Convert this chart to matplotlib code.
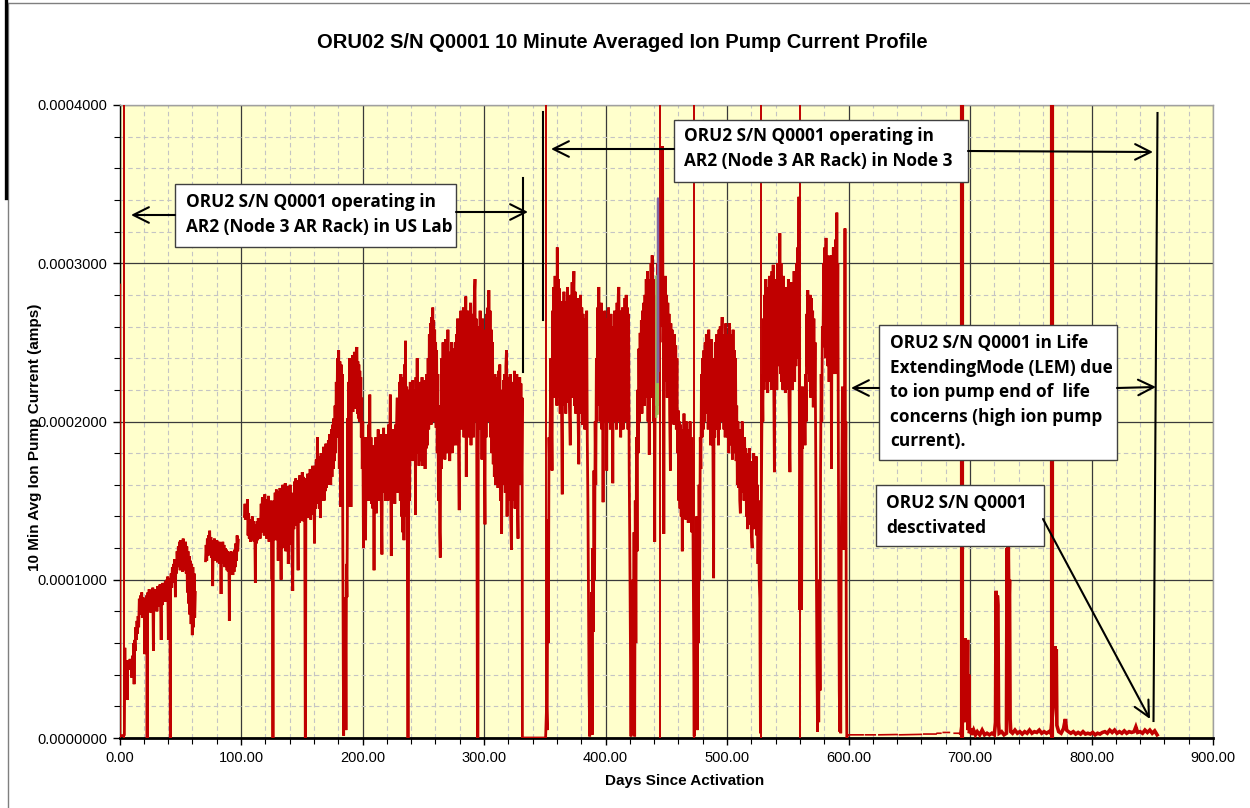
import numpy as np
import matplotlib
matplotlib.use("Agg")
import matplotlib.pyplot as plt
from matplotlib.patches import Rectangle, FancyArrowPatch
from matplotlib.lines import Line2D
from matplotlib.ticker import MultipleLocator, FormatStrFormatter

NAN = np.nan
W, H = 1250, 808

title = "ORU02 S/N Q0001 10 Minute Averaged Ion Pump Current Profile"
x_label = "Days Since Activation"
y_label = "10 Min Avg Ion Pump Current (amps)"
x_ticks = [0, 100, 200, 300, 400, 500, 600, 700, 800, 900]
y_ticks = [0.0, 0.0001, 0.0002, 0.0003, 0.0004]

# ---- data: (day, current in microamps) ----
us_lab = [
    (0.0, 0), (0.15, 287), (0.3, 1.5), (3.3, 1.5), (4.0, 2), (4.4, 57), (4.7, 30), (5.0, 48),
    (5.5, 44), (6.0, 49), (6.3, 24), (6.7, 47), (7.2, 43), (7.7, 49), (8.2, 45), (8.7, 50),
    (9.2, 46), (9.7, 49), (10.2, 38), (10.7, 52), (11.2, 45), (11.7, 60), (12.0, 34), (12.4, 62),
    (12.9, 55), (13.4, 70), (13.9, 62), (14.4, 74), (14.8, 66), (15.3, 77), (15.8, 70), (16.3, 88),
    (16.8, 78), (17.3, 90), (17.8, 80), (18.3, 92), (18.8, 76), (19.3, 89), (19.8, 80), (20.3, 86),
    (20.8, 53), (21.2, 88), (21.7, 78), (22.2, 90), (22.6, 82), (22.7, 0), (22.8, 0), (22.9, 85),
    (23.4, 92), (23.9, 80), (24.4, 94), (24.9, 82), (25.4, 90), (25.9, 79), (26.4, 93), (26.9, 84),
    (27.4, 95), (27.9, 55), (28.3, 90), (28.8, 82), (29.3, 94), (29.8, 84), (30.3, 92), (30.8, 80),
    (31.3, 96), (31.8, 85), (32.3, 93), (32.8, 83), (33.3, 97), (33.8, 86), (34.3, 62), (34.7, 95),
    (35.2, 84), (35.7, 98), (36.2, 86), (36.7, 96), (37.2, 88), (37.7, 99), (38.2, 86), (38.7, 100),
    (39.2, 88), (39.7, 102), (40.2, 62), (40.6, 98), (41.0, 90), (41.5, 101), (41.8, 0), (41.9, 0),
    (42.0, 96), (42.5, 104), (43.0, 95), (43.5, 108), (44.0, 98), (44.5, 110), (45.0, 100), (45.5, 113),
    (46.0, 89), (46.4, 112), (46.9, 104), (47.4, 118), (47.9, 108), (48.4, 121), (48.9, 110), (49.4, 124),
    (49.9, 106), (50.4, 125), (50.9, 108), (51.4, 122), (51.9, 105), (52.4, 126), (52.9, 110), (53.4, 123),
    (53.9, 106), (54.4, 124), (54.9, 104), (55.4, 121), (55.9, 92), (56.4, 118), (56.9, 85), (57.4, 115),
    (57.9, 78), (58.4, 112), (58.9, 72), (59.4, 110), (59.9, 65), (60.4, 108), (60.9, 70), (61.4, 104),
    (61.9, 76), (62.4, 92), (62.5, NAN),
    (70.8, 112), (71.3, 122), (71.8, 112), (72.3, 126), (72.8, 115), (73.3, 128), (73.8, 117), (74.2, 131),
    (74.7, 116), (75.2, 127), (75.7, 114), (76.2, 125), (76.7, 96), (77.1, 124), (77.6, 113), (78.1, 126),
    (78.6, 112), (79.1, 123), (79.6, 114), (80.1, 125), (80.6, 111), (81.1, 122), (81.6, 113), (82.1, 124),
    (82.6, 110), (83.1, 121), (83.6, 91), (84.0, 122), (84.5, 110), (85.0, 124), (85.5, 111), (86.0, 122),
    (86.5, 108), (87.0, 120), (87.5, 109), (88.0, 119), (88.5, 106), (89.0, 118), (89.5, 105), (90.0, 117),
    (90.4, 74), (90.8, 116), (91.3, 104), (91.8, 118), (92.3, 106), (92.8, 117), (93.3, 103), (93.8, 115),
    (94.3, 105), (94.8, 119), (95.3, 108), (95.8, 123), (96.3, 112), (96.8, 128), (97.3, 118), (97.8, 125),
    (97.9, NAN),
    (102.8, 140), (103.3, 148), (103.8, 138), (104.3, 146), (104.8, 140), (105.3, 151), (105.8, 128), (106.3, 142),
    (106.8, 126), (107.3, 138), (107.8, 124), (108.3, 136), (108.8, 125), (109.3, 140), (109.8, 127), (110.3, 137),
    (110.8, 124), (111.3, 135), (111.8, 98), (112.2, 134), (112.7, 123), (113.2, 137), (113.7, 125), (114.2, 139),
    (114.7, 127), (115.2, 138), (115.7, 126), (116.6, 148), (117.1, 135), (117.6, 152), (118.1, 130), (118.6, 150),
    (119.1, 128), (119.6, 154), (120.1, 132), (120.6, 149), (121.1, 126), (121.6, 151), (122.1, 130), (122.6, 153),
    (123.1, 124), (123.6, 148), (124.1, 131), (124.6, 150), (125.1, 128), (125.5, 100), (125.9, 140), (126.2, 0),
    (126.4, 0), (126.6, 130), (127.1, 150), (127.6, 132), (128.1, 155), (128.6, 125), (129.1, 157), (129.6, 130),
    (130.1, 153), (130.6, 112), (131.1, 156), (131.6, 128), (132.1, 158), (132.6, 130), (133.0, 100), (133.4, 150),
    (133.9, 126), (134.4, 160), (134.9, 120), (135.4, 155), (135.9, 124), (136.4, 161), (136.9, 118), (137.4, 154),
    (137.9, 128), (138.4, 159), (138.9, 110), (139.4, 156), (139.9, 130), (140.4, 160), (140.9, 122), (141.4, 155),
    (141.9, 120), (142.6, 93), (143.0, 150), (143.5, 132), (144.0, 162), (144.5, 138), (145.0, 164), (145.5, 134),
    (146.0, 160), (146.5, 140), (147.0, 106), (147.4, 163), (147.9, 136), (148.4, 166), (148.9, 140), (149.4, 163),
    (149.9, 138), (150.4, 168), (150.9, 137), (151.4, 165), (151.9, 140), (152.4, 162), (152.9, 0), (153.1, 0),
    (153.4, 150), (153.9, 164), (154.4, 140), (154.9, 167), (155.4, 139), (155.9, 165), (156.4, 142), (156.9, 170),
    (157.4, 138), (157.9, 166), (158.4, 141), (158.9, 172), (159.4, 143), (159.9, 168), (160.5, 123), (160.9, 172),
    (161.4, 145), (161.9, 176), (162.4, 148), (162.9, 190), (163.4, 150), (163.9, 178), (164.4, 145), (164.9, 172),
    (165.4, 139), (165.9, 180), (166.4, 150), (166.9, 178), (167.4, 155), (167.9, 184), (168.4, 150), (168.9, 180),
    (169.4, 156), (169.9, 186), (170.4, 158), (170.9, 181), (171.4, 160), (171.9, 188), (172.4, 160), (172.9, 192),
    (173.4, 165), (173.9, 160), (174.4, 195), (174.9, 165), (175.4, 198), (175.9, 170), (176.4, 202), (176.9, 175),
    (177.4, 210), (177.9, 180), (178.4, 225), (178.9, 190), (179.4, 240), (179.9, 200), (180.4, 245), (180.9, 170),
    (181.4, 238), (181.9, 146), (182.4, 236), (182.9, 160), (183.4, 230), (183.8, 120), (184.2, 40), (184.5, 1.5),
    (184.8, 60), (185.1, 10), (185.4, 89), (185.7, 30), (186.0, 75), (186.4, 5), (186.8, 110), (187.2, 89),
    (187.5, 131), (187.8, 202), (188.2, 146), (188.6, 225), (189.0, 200), (189.4, 240), (189.8, 205), (190.2, 235),
    (190.5, 146), (190.9, 238), (191.3, 210), (191.7, 242), (192.1, 206), (192.5, 236), (192.9, 212), (193.3, 244),
    (193.7, 208), (194.1, 240), (194.5, 215), (194.9, 245), (195.4, 247), (195.8, 205), (196.2, 238), (196.6, 202),
    (197.0, 236), (197.4, 200), (197.8, 232), (198.2, 200), (198.6, 228), (199.0, 190), (199.4, 215), (199.8, 170),
    (200.2, 200), (200.8, 120), (201.2, 185), (201.6, 140), (202.0, 190), (202.5, 125), (203.0, 180), (203.5, 150),
    (204.0, 190), (204.5, 160), (205.0, 198), (205.5, 150), (206.0, 217), (206.5, 155), (207.0, 190), (207.5, 148),
    (208.0, 185), (208.5, 145), (209.0, 182), (209.5, 106), (209.9, 178), (210.4, 150), (210.9, 190), (211.4, 142),
    (211.9, 180), (212.4, 155), (212.9, 195), (213.4, 150), (213.9, 185), (214.4, 160), (214.9, 192), (215.4, 148),
    (216.0, 116), (216.4, 188), (216.9, 155), (217.4, 196), (217.9, 160), (218.4, 185), (218.9, 150), (219.4, 192),
    (219.9, 162), (220.4, 188), (220.9, 150), (221.4, 198), (221.9, 160), (222.4, 190), (222.9, 217), (223.3, 158),
    (223.7, 115), (224.1, 185), (224.6, 150), (225.1, 195), (225.6, 158), (226.1, 190), (226.6, 148), (227.1, 198),
    (227.6, 160), (228.1, 200), (228.6, 215), (229.1, 155), (229.6, 200), (230.1, 165), (230.6, 225), (231.1, 150),
    (231.6, 230), (232.1, 140), (232.6, 220), (233.1, 130), (233.6, 228), (234.1, 125), (234.6, 236), (235.0, 150),
    (235.4, 251), (235.9, 140), (236.4, 222), (236.9, 120), (237.3, 0), (237.6, 0), (237.9, 116), (238.3, 220),
    (238.8, 150), (239.3, 225), (239.8, 180), (240.3, 218), (240.8, 175), (241.3, 226), (241.8, 178), (242.3, 220),
    (242.8, 180), (243.3, 212), (243.6, 141), (244.0, 228), (244.5, 185), (245.0, 240), (245.5, 180), (246.0, 222),
    (246.5, 172), (247.0, 225), (247.5, 178), (248.0, 216), (248.5, 175), (249.0, 228), (249.5, 172), (250.0, 220),
    (250.5, 180), (251.0, 226), (251.5, 170), (252.0, 218), (252.5, 183), (253.0, 230), (253.5, 185), (254.0, 240),
    (254.5, 195), (255.0, 255), (255.5, 200), (256.0, 262), (256.5, 198), (257.0, 266), (257.5, 205), (257.8, 272),
    (258.2, 210), (258.6, 264), (259.0, 200), (259.4, 258), (259.8, 202), (260.2, 250), (260.6, 196), (261.0, 245),
    (261.5, 180), (262.0, 230), (262.5, 150), (263.0, 210), (263.5, 130), (264.0, 114), (264.4, 200), (264.8, 170),
    (265.3, 240), (265.8, 190), (266.3, 250), (266.8, 185), (267.3, 245), (267.8, 176), (268.3, 252), (268.8, 190),
    (269.3, 248), (269.8, 180), (270.3, 258), (270.8, 192), (271.3, 244), (271.8, 175), (272.3, 240), (272.8, 188),
    (273.3, 250), (273.8, 180), (274.3, 238), (274.8, 185), (275.3, 246), (275.8, 190), (276.3, 250), (276.8, 185),
    (277.3, 255), (277.8, 200), (278.3, 265), (278.8, 205), (279.6, 144), (280.0, 260), (280.5, 200), (281.0, 270),
    (281.5, 195), (282.0, 262), (282.5, 205), (283.0, 272), (283.5, 190), (284.0, 268), (284.5, 200), (285.0, 279),
    (285.4, 165), (285.8, 260), (286.3, 195), (286.8, 270), (287.3, 190), (287.8, 265), (288.3, 200), (288.8, 275),
    (289.3, 185), (289.8, 268), (290.3, 195), (290.8, 262), (291.3, 190), (291.8, 272), (292.6, 290), (293.0, 200),
    (293.5, 265), (294.0, 190), (294.6, 0), (295.0, 0), (295.3, 180), (295.8, 260), (296.3, 200), (296.8, 270),
    (297.3, 195), (297.8, 262), (298.3, 176), (298.8, 265), (299.3, 185), (299.8, 258), (300.4, 175), (300.8, 135),
    (301.2, 250), (301.7, 190), (302.2, 268), (302.7, 200), (303.2, 272), (303.7, 205), (304.0, 283), (304.5, 200),
    (305.0, 270), (305.5, 190), (306.0, 258), (306.5, 180), (307.0, 250), (307.6, 173), (308.0, 225), (308.5, 165),
    (309.0, 230), (309.5, 160), (310.0, 222), (310.5, 170), (311.0, 228), (311.5, 158), (312.0, 232), (312.5, 165),
    (313.0, 236), (313.5, 150), (314.0, 220), (314.5, 129), (315.0, 215), (315.5, 160), (316.0, 226), (316.5, 170),
    (317.0, 230), (317.5, 155), (318.0, 235), (318.5, 245), (319.0, 140), (319.5, 228), (320.0, 160), (320.5, 225),
    (321.0, 150), (321.5, 230), (322.0, 140), (322.6, 119), (323.0, 218), (323.5, 160), (324.0, 225), (324.5, 150),
    (325.0, 232), (325.5, 145), (326.0, 222), (326.5, 165), (327.0, 230), (327.5, 150), (328.0, 126), (328.4, 220),
    (328.9, 160), (329.4, 228), (329.9, 172), (330.4, 224), (330.9, 165), (331.4, 215), (331.6, 0), (350.5, 0),
]

node3 = [
    (350.7, 0), (351.5, 20), (352.0, 5), (352.5, 138), (353.0, 60), (353.5, 190), (354.0, 170), (354.5, 200),
    (355.0, 240), (355.5, 200), (356.0, 169), (356.5, 270), (357.0, 215), (357.5, 285), (358.0, 220), (358.5, 292),
    (359.0, 225), (359.5, 280), (360.0, 210), (360.3, 310), (360.7, 230), (361.2, 290), (361.7, 215), (362.2, 284),
    (362.7, 205), (363.2, 276), (363.7, 220), (364.4, 154), (364.8, 270), (365.3, 210), (365.8, 282), (366.3, 215),
    (366.8, 276), (367.3, 205), (367.8, 272), (368.3, 212), (368.8, 285), (369.3, 220), (369.8, 278), (370.3, 210),
    (371.0, 185), (371.5, 280), (372.0, 215), (372.5, 288), (373.0, 218), (373.5, 275), (374.0, 295), (374.5, 210),
    (375.0, 282), (375.5, 205), (376.0, 274), (376.5, 212), (377.0, 278), (377.5, 200), (378.0, 173), (378.5, 270),
    (379.0, 205), (379.5, 280), (380.0, 210), (380.5, 272), (381.0, 198), (381.5, 268), (382.0, 205), (382.5, 265),
    (383.0, 195), (383.5, 262), (384.0, 200), (384.5, 270), (385.0, 190), (385.5, 150), (386.0, 90), (386.5, 30),
    (387.0, 1), (387.5, 60), (388.0, 5), (388.5, 92), (389.0, 2), (389.5, 120), (390.0, 67), (390.5, 169),
    (391.0, 100), (391.5, 200), (392.0, 160), (392.5, 240), (393.0, 200), (393.5, 272), (394.0, 215), (394.5, 285),
    (395.0, 210), (395.5, 268), (396.0, 200), (396.5, 275), (397.0, 195), (397.5, 260), (398.0, 149), (398.5, 262),
    (399.0, 205), (399.5, 270), (400.0, 200), (400.5, 260), (401.0, 169), (401.5, 265), (402.0, 200), (402.5, 272),
    (403.0, 205), (403.5, 262), (404.0, 195), (404.5, 268), (405.0, 205), (405.5, 255), (406.0, 161), (406.5, 260),
    (407.0, 200), (407.5, 270), (408.0, 210), (408.5, 265), (409.0, 195), (409.5, 275), (410.0, 205), (410.5, 280),
    (411.0, 285), (411.5, 200), (412.0, 270), (412.5, 190), (413.0, 262), (413.5, 200), (414.0, 272), (414.5, 195),
    (415.0, 265), (415.5, 205), (416.0, 278), (416.5, 200), (417.0, 280), (417.5, 210), (418.0, 272), (418.5, 195),
    (419.0, 268), (419.5, 170), (420.0, 120), (420.5, 60), (421.0, 1), (421.5, 80), (422.0, 2), (422.5, 100),
    (423.0, 20), (423.5, 130), (424.0, 1), (424.5, 150), (425.0, 60), (425.5, 190), (426.0, 118), (426.5, 220),
    (427.0, 180), (427.5, 246), (428.0, 200), (428.5, 256), (429.0, 210), (429.5, 264), (430.0, 205), (430.5, 270),
    (431.0, 215), (431.5, 275), (432.0, 210), (432.5, 280), (433.0, 220), (433.5, 290), (434.0, 215), (434.5, 295),
    (435.0, 200), (435.5, 285), (436.0, 179), (436.5, 290), (437.0, 215), (437.5, 300), (438.0, 230), (438.4, 305),
    (438.8, 220), (439.2, 290), (439.6, 200), (440.0, 250), (440.5, 124), (441.0, 250), (441.5, 210), (442.0, 280),
    (442.5, 230), (443.0, 300), (443.5, 250), (444.0, 320), (444.5, 270), (445.0, 338), (445.5, 280), (446.0, 320),
    (446.5, 260), (447.0, 374), (447.3, 250), (447.7, 290), (448.0, 129), (448.4, 285), (448.8, 230), (449.3, 292),
    (449.8, 225), (450.3, 280), (450.8, 215), (451.3, 275), (451.8, 220), (452.3, 268), (452.8, 205), (453.4, 169),
    (453.8, 262), (454.3, 200), (454.8, 258), (455.3, 210), (455.8, 250), (456.3, 198), (456.8, 255), (457.3, 200),
    (457.8, 248), (458.3, 195), (458.8, 240), (459.3, 180), (459.8, 207), (460.3, 150), (460.8, 200), (461.3, 145),
    (461.8, 198), (462.3, 140), (462.8, 190), (463.2, 118), (463.6, 195), (464.1, 145), (464.6, 205), (465.1, 150),
    (465.6, 190), (466.1, 138), (466.6, 200), (467.1, 144), (467.6, 185), (468.1, 136), (468.6, 195), (469.1, 150),
    (469.6, 200), (470.1, 140), (470.6, 190), (471.1, 130), (471.6, 180), (472.1, 120), (472.6, 60), (473.0, 1),
    (473.4, 90), (473.8, 10), (474.2, 118), (474.6, 30), (475.0, 140), (475.5, 5), (476.0, 120), (476.5, 60),
    (477.0, 160), (477.5, 100), (478.0, 190), (478.5, 170), (479.0, 230), (479.5, 190), (480.0, 240), (480.5, 195),
    (481.0, 245), (481.5, 200), (482.0, 250), (482.5, 210), (483.0, 255), (483.5, 205), (484.0, 248), (484.5, 195),
    (485.0, 258), (485.5, 200), (486.0, 245), (486.5, 185), (487.0, 252), (487.5, 190), (488.0, 240), (488.5, 175),
    (489.0, 101), (489.4, 235), (489.9, 190), (490.4, 250), (490.9, 195), (491.4, 255), (491.9, 200), (492.4, 245),
    (492.9, 185), (493.4, 258), (493.9, 195), (494.4, 260), (494.9, 200), (495.4, 250), (496.0, 266), (496.5, 205),
    (497.0, 255), (497.5, 195), (498.0, 250), (498.5, 190), (499.0, 262), (499.5, 200), (500.0, 255), (500.5, 190),
    (501.0, 250), (501.5, 180), (502.0, 262), (502.5, 195), (503.0, 255), (503.5, 185), (504.0, 248), (504.5, 176),
    (505.0, 258), (505.5, 190), (506.0, 245), (506.5, 180), (507.0, 240), (507.5, 175), (508.0, 210), (508.5, 160),
    (509.0, 200), (509.5, 158), (510.0, 195), (510.5, 150), (511.0, 142), (511.5, 190), (512.0, 160), (512.5, 200),
    (513.0, 155), (513.5, 185), (514.0, 150), (514.5, 190), (515.0, 158), (515.5, 183), (516.0, 140), (516.5, 180),
    (517.0, 132), (517.5, 178), (518.0, 140), (518.5, 183), (519.0, 135), (519.5, 175), (520.0, 130), (520.7, 120),
    (521.0, 175), (521.5, 140), (522.0, 180), (522.5, 132), (523.0, 170), (523.5, 138), (524.0, 178), (524.5, 128),
    (525.0, 160), (525.5, 110), (526.0, 150), (526.5, 100), (527.0, 88), (527.5, 3), (528.0, 120), (528.5, 180),
    (529.0, 230), (529.5, 200), (530.0, 265), (530.5, 220), (531.0, 280), (531.5, 230), (532.0, 290), (532.5, 225),
    (533.0, 270), (533.5, 218), (534.0, 285), (534.5, 230), (535.0, 292), (535.5, 225), (536.0, 280), (536.5, 220),
    (537.0, 295), (537.5, 230), (538.0, 299), (538.5, 225), (539.0, 168), (539.5, 285), (540.0, 230), (540.5, 290),
    (541.0, 220), (541.5, 300), (542.0, 235), (542.5, 295), (543.0, 240), (543.5, 319), (544.0, 230), (544.5, 300),
    (545.0, 225), (545.5, 285), (546.0, 220), (546.5, 292), (547.0, 230), (547.5, 280), (548.0, 218), (548.5, 285),
    (549.0, 225), (549.5, 278), (550.0, 220), (550.5, 290), (551.0, 215), (551.8, 168), (552.2, 280), (552.7, 225),
    (553.2, 288), (553.7, 220), (554.2, 282), (554.7, 230), (555.2, 295), (555.7, 225), (556.2, 290), (556.7, 235),
    (557.2, 300), (557.7, 240), (558.2, 310), (558.7, 250), (559.2, 342), (559.5, 230), (559.9, 81), (560.3, 150),
    (560.7, 222), (561.0, 100), (561.4, 81), (561.8, 200), (562.2, 183), (562.7, 222), (563.2, 190), (563.7, 215),
    (564.2, 185), (564.7, 230), (565.2, 200), (565.6, 268), (566.0, 235), (566.5, 283), (567.0, 230), (567.5, 275),
    (568.0, 225), (568.5, 280), (569.0, 215), (569.5, 278), (570.0, 220), (570.5, 270), (571.0, 209), (571.5, 265),
    (572.0, 210), (572.5, 250), (573.0, 180), (573.5, 120), (574.0, 50), (574.5, 4), (575.0, 80), (575.5, 10),
    (576.0, 100), (576.6, 30), (577.0, 170), (577.5, 230), (578.0, 200), (578.5, 260), (579.0, 247), (579.5, 300),
    (580.0, 250), (580.5, 310), (581.0, 240), (581.5, 316), (582.0, 250), (582.5, 305), (583.0, 235), (583.5, 300),
    (584.0, 225), (584.5, 293), (585.0, 240), (585.5, 305), (586.0, 170), (586.5, 300), (587.0, 230), (587.5, 310),
    (588.0, 245), (588.5, 300), (589.0, 230), (589.5, 315), (590.0, 250), (590.4, 332), (590.8, 240), (591.2, 300),
    (591.7, 163), (592.0, 100), (592.4, 30), (592.8, 4), (593.2, 60), (593.6, 3), (594.0, 120), (594.5, 163),
    (595.0, 222), (595.5, 158), (596.0, 119), (596.4, 200), (596.8, 170), (597.1, 322), (597.4, 160), (597.8, 200),
    (598.2, 60), (598.6, 0),
]

lem_standby = [
    (598.6, 0), (600, 2), (612, 2), (612.5, NAN), (614, 2), (622, 2), (622.5, NAN), (625, 2),
    (640, 2.2), (640.5, NAN), (642, 2), (660, 2.3), (660.5, NAN), (662, 2.5), (672, 2.5), (672.5, NAN),
    (673, 3), (676, 3), (676.5, NAN), (678, 3.5), (683, 3.5), (683.5, NAN), (687, 3), (692.5, 3),
]

lem_after = [
    (692.5, 3), (695.5, 20), (696.0, 63), (696.5, 10), (697.0, 60), (697.5, 30), (698.0, 62), (698.5, 5),
    (699.0, 40), (699.5, 3), (700.5, 6), (701.5, 2), (703, 5), (704.5, 2), (706, 4), (708, 2),
    (710, 5), (712, 2), (714, 3), (716, 2), (718, 3), (720, 2), (721.0, 10), (721.5, 93),
    (722.0, 40), (722.5, 90), (723.0, 84), (723.5, 10), (724.0, 3), (726, 4), (728, 2), (730.0, 3),
    (730.5, 120), (731.0, 60), (731.5, 122), (732.0, 80), (732.5, 100), (733.0, 12), (733.5, 4), (735, 3),
    (737, 5), (739, 3), (741, 4), (743, 2.5), (745, 4), (747, 3), (749, 5), (751, 3),
    (753, 4), (755, 3.5), (757, 5), (759, 3), (761, 4), (763, 3), (765, 4), (766.5, 3),
    (768.5, 20), (769.0, 58), (769.5, 30), (770.0, 58), (770.5, 40), (771.0, 56), (771.5, 8), (773, 4),
    (775, 3), (777, 6), (778.5, 12), (779.5, 5), (781, 4), (783, 3), (785, 4), (787, 2.5),
    (789, 3.5), (791, 2.5), (793, 4), (795, 2.5), (797, 3), (799, 2.5), (801, 3.5), (803, 2),
    (805, 3), (807, 2.5), (809, 3.5), (811, 4), (813, 3), (815, 5), (817, 3.5), (819, 5),
    (821, 3), (823, 4), (825, 3), (827, 4.5), (829, 3), (831, 4), (833, 3.5), (835, 4),
    (836.5, 7), (838, 3.5), (840, 4), (842, 3), (844, 5), (846, 3.5), (848, 5), (850, 3),
    (852, 4.5), (854, 2),
]

# readings that go off the top of the scale (drawn as full-height spikes)
offscale_days_thin = [3.4, 350.7, 445.0, 472.9, 527.6, 559.7]
offscale_days_thick = [693.8, 767.3]
offscale_uA = 5000.0

# two short overlay series near day 443
purple_series = [(442.9, 225), (443.2, 341), (443.5, 232)]
green_series = [(441.8, 203), (442.1, 292), (442.4, 210), (442.7, 280), (443.0, 205)]

note_lab = ["ORU2 S/N Q0001 operating in", "AR2 (Node 3 AR Rack) in US Lab"]
note_node3 = ["ORU2 S/N Q0001 operating in", "AR2 (Node 3 AR Rack) in Node 3"]
note_lem = ["ORU2 S/N Q0001 in Life", "ExtendingMode (LEM) due", "to ion pump end of  life",
            "concerns (high ion pump", "current)."]
note_deact = ["ORU2 S/N Q0001", "desctivated"]

# ---------------------------------------------------------------------------
RED = "#C00000"
AXIS_FONT = ["Liberation Sans Narrow", "Liberation Sans", "DejaVu Sans"]
NOTE_FONT = ["Open Sans", "DejaVu Sans"]


def fx(px):
    return px / W


def fy(py):
    return 1 - py / H


fig = plt.figure(figsize=(W / 100, H / 100), dpi=100)
fig.patch.set_facecolor("white")

L, R, T, B = 119.5, 1213.0, 105.0, 738.0
ax = fig.add_axes([fx(L), fy(B), (R - L) / W, (B - T) / H])
ax.set_facecolor("#FFFFCC")
ax.set_xlim(0, 900)
ax.set_ylim(0, 0.0004)


def arr(pairs):
    a = np.array(pairs, dtype=float)
    return a[:, 0], a[:, 1] * 1e-6


for series, lw in ((us_lab, 2.0), (node3, 2.0), (lem_standby, 1.2), (lem_after, 2.6)):
    d, v = arr(series)
    ax.plot(d, v, color=RED, lw=lw, zorder=3, solid_joinstyle="miter")

ax.vlines(offscale_days_thin, 0, offscale_uA * 1e-6, color=RED, lw=1.4, zorder=3)
ax.vlines(offscale_days_thick, 0, offscale_uA * 1e-6, color=RED, lw=3.0, zorder=3)

d, v = arr(green_series)
ax.plot(d, v, color="#9BBB59", lw=1.6, zorder=4)
d, v = arr(purple_series)
ax.plot(d, v, color="#8064A2", lw=1.6, zorder=4)

ax.set_xticks(x_ticks)
ax.set_yticks(y_ticks)
ax.xaxis.set_minor_locator(MultipleLocator(20))
ax.yaxis.set_minor_locator(MultipleLocator(0.00002))
ax.xaxis.set_major_formatter(FormatStrFormatter("%.2f"))
ax.yaxis.set_major_formatter(FormatStrFormatter("%.7f"))
ax.set_axisbelow(True)
ax.grid(which="minor", color="#C4C4C4", linestyle=(0, (4, 3)), lw=0.8)
ax.grid(which="major", color="#3A3A3A", linestyle="-", lw=0.9)
ax.tick_params(which="major", direction="out", length=5, width=1, color="black", labelsize=10.5, pad=4)
ax.tick_params(which="minor", direction="out", length=4, width=0.8, color="black")
for lab in ax.get_xticklabels() + ax.get_yticklabels():
    lab.set_fontfamily(AXIS_FONT)
ax.spines["bottom"].set_linewidth(2.0)
ax.spines["bottom"].set_color("black")
ax.spines["left"].set_linewidth(1.0)
ax.spines["left"].set_color("black")
for s in ("top", "right"):
    ax.spines[s].set_color("#A0A0A0")
    ax.spines[s].set_linewidth(1.0)

# titles
fig.text(fx(622), fy(43), title, ha="center", va="center", fontsize=14.5,
         fontweight="bold", family=AXIS_FONT)
fig.text(fx(685), fy(781), x_label, ha="center", va="center", fontsize=11,
         fontweight="bold", family=AXIS_FONT)
fig.text(fx(35), fy(437), y_label, ha="center", va="center", rotation=90,
         fontsize=11, fontweight="bold", family=AXIS_FONT)

# chart frame
fig.add_artist(Line2D([fx(8), fx(1250)], [fy(3), fy(3)], transform=fig.transFigure,
                      color="#7F7F7F", lw=1.0))
fig.add_artist(Line2D([fx(8), fx(8)], [fy(3), fy(808)], transform=fig.transFigure,
                      color="#7F7F7F", lw=1.0))
fig.add_artist(Line2D([fx(5.5), fx(5.5)], [fy(0), fy(198)], transform=fig.transFigure,
                      color="black", lw=2.4))


def box(x0, y0, x1, y1, lines, tx, ty, dy, size):
    fig.add_artist(Rectangle((fx(x0), fy(y1)), (x1 - x0) / W, (y1 - y0) / H,
                             transform=fig.transFigure, facecolor="white",
                             edgecolor="#404040", lw=1.0, zorder=6))
    for i, line in enumerate(lines):
        fig.text(fx(tx), fy(ty + i * dy), line, ha="left", va="center", fontsize=size,
                 fontweight="bold", family=NOTE_FONT, zorder=7)


def arrow(x0, y0, x1, y1):
    fig.add_artist(FancyArrowPatch((fx(x0), fy(y0)), (fx(x1), fy(y1)),
                                   transform=fig.transFigure,
                                   arrowstyle="->,head_length=0.7,head_width=0.35",
                                   mutation_scale=16, lw=1.5, color="black",
                                   shrinkA=0, shrinkB=0, zorder=8))


def vline(x0, y0, x1, y1):
    fig.add_artist(Line2D([fx(x0), fx(x1)], [fy(y0), fy(y1)], transform=fig.transFigure,
                          color="black", lw=1.5, zorder=8))


NS = 12.4
box(175, 184, 456, 247, note_lab, 186, 202, 25, NS)
arrow(175, 215, 131, 215)
arrow(456, 212, 528, 212)
vline(523, 178, 523, 372)
vline(543, 112, 543, 320)

box(674, 120, 968, 182, note_node3, 684, 136, 25, NS)
arrow(674, 149, 551, 149)
arrow(968, 151, 1153, 152)
vline(1157.5, 113, 1153.5, 721)

box(879, 325, 1117, 460, note_lem, 890, 343, 24.6, NS)
arrow(879, 388, 851, 388)
arrow(1117, 388, 1156, 387)

box(876, 485, 1044, 546, note_deact, 886, 503, 25, NS)
arrow(1043, 519, 1150, 719)

fig.savefig("out.png", dpi=100)
